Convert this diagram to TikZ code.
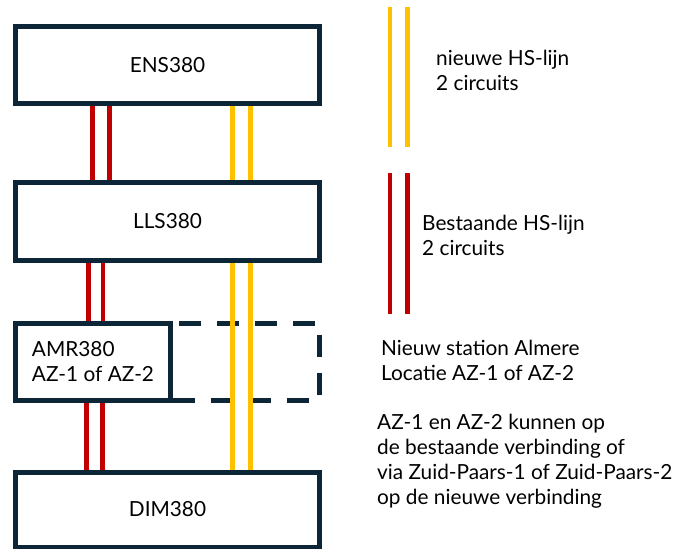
\documentclass[tikz,border=0pt]{standalone}
\usepackage{fontspec}
\setmainfont{Lato}
\usepackage{xcolor}
\usepackage{tikz}
\usetikzlibrary{positioning, calc}
\definecolor{stationblue}{HTML}{0C2637}
\definecolor{hsred}{HTML}{C00000}
\definecolor{hsyellow}{HTML}{FFC000}

\tikzset{
  station/.style={draw=stationblue, line width=5pt, fill=white, inner sep=0pt,
                  minimum width=304pt, font=\fontsize{20.8}{25}\selectfont},
  bestaand/.style={draw=hsred, line width=4.8pt},
  nieuw/.style={draw=hsyellow, line width=4.8pt},
  legendtext/.style={inner sep=0pt, anchor=west, align=left,
                     font=\fontsize{20.8}{25}\selectfont}
}

\begin{document}
\begin{tikzpicture}[x=1pt, y=-1pt]
    \useasboundingbox (0,0) rectangle (675,549);

    % stations
    \node[station, minimum height=77pt] (ENS) at (167.5,65) {ENS380};
    \node[station, minimum height=78pt] (LLS) at (167.5,221.5) {LLS380};
    \node[station, minimum width=155pt, minimum height=77pt, align=left] (AMR) at (93,361.5)
      {AMR380\\AZ-1 of AZ-2};
    \node[station, minimum height=75pt] (DIM) at (167.5,509.5) {DIM380};

    % location of the alternative station
    \coordinate (AMRalt) at (319.5,400);
    \draw[stationblue, line width=5pt, dash pattern=on 22pt off 16pt, dash phase=32pt]
      ([yshift=-2.5pt]AMR.north east) -| (AMRalt) -- ([yshift=2.5pt]AMR.south east);

    % existing line
    \foreach \x in {79.3, 96.3}
      \draw[bestaand] ([xshift=\x pt]ENS.south west) -- ([xshift=\x pt]LLS.north west);
    \foreach \x in {75.3, 90}
      \draw[bestaand] ([xshift=\x pt]LLS.south west) -- ([xshift=\x pt]AMR.north west);
    \foreach \x in {73.3, 89.3}
      \draw[bestaand] ([xshift=\x pt]AMR.south west) -- ([xshift=\x pt]DIM.north west);

    % new line
    \foreach \x in {219.7, 237.7} {
      \draw[nieuw] ([xshift=\x pt]ENS.south west) -- ([xshift=\x pt]LLS.north west);
      \draw[nieuw] ([xshift=\x pt]LLS.south west) -- ([xshift=\x pt]DIM.north west);
    }

    % legend
    \coordinate (nieuwtop) at (390,7);
    \coordinate (nieuwbot) at (390,147);
    \coordinate (bestaandtop) at (390,173);
    \coordinate (bestaandbot) at (390,314);
    \foreach \x in {0, 17.3} {
      \draw[nieuw] ([xshift=\x pt]nieuwtop) -- ([xshift=\x pt]nieuwbot);
      \draw[bestaand] ([xshift=\x pt]bestaandtop) -- ([xshift=\x pt]bestaandbot);
    }
    \node[legendtext] (nieuwlabel) at (436,70.5) {nieuwe HS-lijn\\2 circuits};
    \node[legendtext] (bestaandlabel) at (422,235) {Bestaande HS-lijn\\2 circuits};
    \node[legendtext] (stationlabel) at (381,360.5) {Nieuw station Almere\\Locatie AZ-1 of AZ-2};
    \node[legendtext] (notelabel) at (377,461)
      {AZ-1 en AZ-2 kunnen op\\de bestaande verbinding of\\via Zuid-Paars-1 of Zuid-Paars-2\\op de nieuwe verbinding};
\end{tikzpicture}
\end{document}
